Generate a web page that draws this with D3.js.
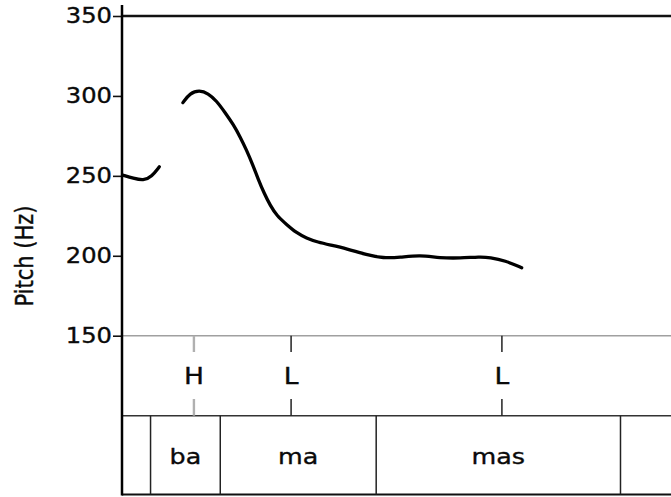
<!DOCTYPE html>
<html>
<head>
<meta charset="utf-8">
<script src="https://cdn.jsdelivr.net/npm/d3@7/dist/d3.min.js"></script>
<style>
  html, body { margin: 0; padding: 0; background: #fff; }
  svg { display: block; }
  text { font-family: "DejaVu Sans", Verdana, sans-serif; fill: #0a0a0a; stroke: #0a0a0a; stroke-width: 0.35px; }
</style>
</head>
<body>
<svg id="chart" width="671" height="497"></svg>
<script>
// Pitch track (time in seconds, F0 in Hz), two voiced stretches
const pitchSegment1 = [
  [0.001, 250.5], [0.021, 248.5], [0.039, 247.0], [0.054, 249.5], [0.068, 255.7]
];
const pitchSegment2 = [
  [0.111, 295.8], [0.124, 301.8], [0.141, 303.6], [0.157, 301.6], [0.172, 297.0],
  [0.188, 289.5], [0.203, 282.0], [0.215, 274.5], [0.227, 266.0], [0.238, 257.0],
  [0.248, 248.0], [0.259, 239.0], [0.270, 231.5], [0.282, 225.0], [0.300, 219.5],
  [0.317, 214.5], [0.336, 211.0], [0.357, 208.5], [0.379, 206.8], [0.409, 204.5],
  [0.446, 200.5], [0.476, 198.5], [0.506, 199.0], [0.543, 200.5], [0.579, 198.6],
  [0.616, 198.5], [0.652, 199.4], [0.670, 199.0], [0.698, 197.0], [0.728, 192.5]
];

// Y-axis ticks
const pitchTicks = [150, 200, 250, 300, 350];

// Tone tier
const toneLabels = ["H", "L", "L"];
const toneTimes = [0.131, 0.308, 0.692];

// Syllable tier
const syllableLabels = ["", "ba", "ma", "mas", ""];
const syllableEdges = [0, 0.052, 0.179, 0.463, 0.908, 1.0];

// Layout
const W = 671;
const left = 122;
const plotTop = 16, plotBottom = 335.7;
const toneBottom = 415.7, sylBottom = 494.5;
const stretch = 1.18; // horizontal text stretch

const svg = d3.select("#chart");

const x = d3.scaleLinear().domain([0, 1]).range([left, W]);
const y = d3.scaleLinear().domain([150, 350]).range([plotBottom, plotTop]);

// Horizontal frame lines
svg.append("line").attr("x1", left).attr("x2", W).attr("y1", y(350)).attr("y2", y(350))
  .attr("stroke", "#111").attr("stroke-width", 2.5);
svg.append("line").attr("x1", left).attr("x2", W).attr("y1", y(150)).attr("y2", y(150))
  .attr("stroke", "#a0a0a0").attr("stroke-width", 1.5);
svg.append("line").attr("x1", left).attr("x2", W).attr("y1", toneBottom).attr("y2", toneBottom)
  .attr("stroke", "#333").attr("stroke-width", 1.5);
svg.append("line").attr("x1", left).attr("x2", W).attr("y1", sylBottom).attr("y2", sylBottom)
  .attr("stroke", "#111").attr("stroke-width", 2);

// Left axis
const axis = d3.axisLeft(y).tickValues(pitchTicks).tickSize(9).tickFormat(d3.format("d"));
const gAxis = svg.append("g").attr("transform", `translate(${left},0)`).call(axis);
gAxis.select(".domain").remove();
gAxis.selectAll(".tick line").attr("stroke", "#111").attr("stroke-width", 1.6);
gAxis.selectAll(".tick text")
  .attr("x", -10 / stretch)
  .attr("dy", "0.34em")
  .attr("transform", `scale(${stretch},1)`)
  .style("font-size", "20.5px")
  .style("font-family", "'DejaVu Sans', Verdana, sans-serif")
  .attr("fill", "#0a0a0a");

svg.append("line").attr("x1", left).attr("x2", left).attr("y1", 5).attr("y2", sylBottom + 1)
  .attr("stroke", "#000").attr("stroke-width", 2.5);

// Y-axis title
svg.append("text")
  .attr("transform", `translate(33,256) scale(${stretch},1) rotate(-90)`)
  .attr("text-anchor", "middle")
  .style("font-size", "21px")
  .text("Pitch (Hz)");

// Pitch contour
const line = d3.line()
  .x(d => x(d[0]))
  .y(d => y(d[1]))
  .curve(d3.curveBasis);

[pitchSegment1, pitchSegment2].forEach(seg => {
  svg.append("path")
    .datum(seg)
    .attr("d", line)
    .attr("fill", "none")
    .attr("stroke", "#000")
    .attr("stroke-width", 3.3)
    .attr("stroke-linecap", "round")
    .attr("stroke-linejoin", "round");
});

// Tone tier: tick stubs above and below each label
const tones = toneLabels.map((label, i) => ({ label, t: toneTimes[i] }));
const gTone = svg.append("g");
tones.forEach(d => {
  const col = d.label === "H" ? "#b0b0b0" : "#222";
  const sw = d.label === "H" ? 2.4 : 1.5;
  gTone.append("line").attr("x1", x(d.t)).attr("x2", x(d.t))
    .attr("y1", plotBottom).attr("y2", 352).attr("stroke", col).attr("stroke-width", sw);
  gTone.append("line").attr("x1", x(d.t)).attr("x2", x(d.t))
    .attr("y1", 399).attr("y2", toneBottom).attr("stroke", col).attr("stroke-width", sw);
  gTone.append("text")
    .attr("transform", `translate(${x(d.t)},383.5) scale(${stretch},1)`)
    .attr("text-anchor", "middle")
    .style("font-size", "22.5px")
    .text(d.label);
});

// Syllable tier: interval boundaries and labels
const gSyl = svg.append("g");
syllableEdges.slice(1, -1).forEach(t => {
  gSyl.append("line").attr("x1", x(t)).attr("x2", x(t))
    .attr("y1", toneBottom).attr("y2", sylBottom)
    .attr("stroke", "#222").attr("stroke-width", 1.5);
});
syllableLabels.forEach((label, i) => {
  if (!label) return;
  const cx = (x(syllableEdges[i]) + x(syllableEdges[i + 1])) / 2;
  gSyl.append("text")
    .attr("transform", `translate(${cx},463.5) scale(${stretch},1)`)
    .attr("text-anchor", "middle")
    .style("font-size", "21.5px")
    .text(label);
});
</script>
</body>
</html>
